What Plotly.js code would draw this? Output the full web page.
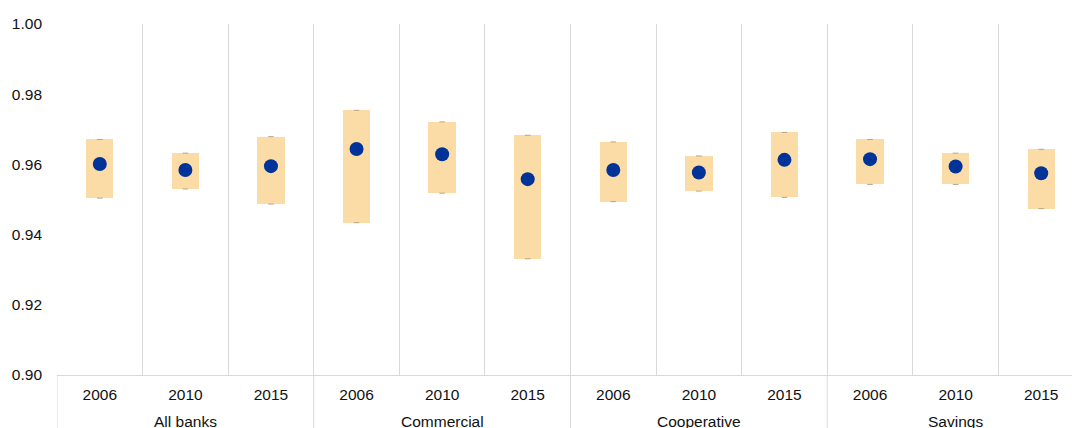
<!DOCTYPE html>
<html>
<head>
<meta charset="utf-8">
<script src="https://cdn.plot.ly/plotly-3.0.1.min.js"></script>
<style>
html,body{margin:0;padding:0;overflow:hidden;background:#fff;}
#chart{width:1084px;height:445px;}
</style>
</head>
<body>
<div id="chart"></div>
<script>
// Data
var groups = ["All banks", "Commercial", "Cooperative", "Savings"];
var years = ["2006", "2010", "2015"];
var lowValues  = [0.9504, 0.9530, 0.9487, 0.9434, 0.9518, 0.9331, 0.9494, 0.9524, 0.9506, 0.9543, 0.9543, 0.9474];
var highValues = [0.9671, 0.9632, 0.9679, 0.9754, 0.9721, 0.9683, 0.9664, 0.9624, 0.9691, 0.9671, 0.9632, 0.9643];
var midValues  = [0.9601, 0.9584, 0.9595, 0.9644, 0.9629, 0.9558, 0.9584, 0.9577, 0.9613, 0.9615, 0.9594, 0.9575];
var yTicks = [0.90, 0.92, 0.94, 0.96, 0.98, 1.00];

var n = lowValues.length;
var xs = [], yearLabels = [];
for (var i = 0; i < n; i++) { xs.push(i); yearLabels.push(years[i % years.length]); }
var boundaries = [];
for (var b = 0; b <= n; b++) boundaries.push(b - 0.5);
var per = years.length;
var groupCenters = groups.map(function(g, k){ return k * per + (per - 1) / 2; });
var groupEdges = [];
for (var k = 0; k <= groups.length; k++) groupEdges.push(k * per - 0.5);

var spans = highValues.map(function(h, i){ return h - lowValues[i]; });

var traces = [
  {
    type: 'bar', x: xs, y: spans, base: lowValues, width: 0.32,
    marker: {color: '#FCDCA6', line: {width: 0}},
    hoverinfo: 'skip', showlegend: false
  },
  {
    type: 'scatter', mode: 'markers', x: xs.concat(xs), y: highValues.concat(lowValues),
    marker: {symbol: 'line-ew-open', size: 4, color: '#b5a58a', line: {width: 1, color: '#b5a58a'}},
    hoverinfo: 'skip', showlegend: false
  },
  {
    type: 'scatter', mode: 'markers', x: xs, y: midValues,
    marker: {color: '#003399', size: 14, line: {width: 0}},
    showlegend: false
  }
];

var shapes = groupEdges.map(function(e){
  return {type: 'line', xref: 'x', yref: 'paper', x0: e, x1: e, y0: 0, y1: -0.3,
          line: {color: '#d9d9d9', width: 1}, layer: 'below'};
});

var annotations = groups.map(function(g, k){
  return {text: g, x: groupCenters[k], xref: 'x', y: 0, yref: 'paper',
          yanchor: 'middle', yshift: -46, showarrow: false,
          font: {family: 'Liberation Sans, Arial, sans-serif', size: 15.5, color: '#111'}};
});

var layout = {
  width: 1084, height: 445,
  margin: {l: 57, r: 0, t: 24, b: 70},
  paper_bgcolor: '#fff', plot_bgcolor: '#fff',
  font: {family: 'Liberation Sans, Arial, sans-serif', size: 15.5, color: '#111'},
  bargap: 0,
  xaxis: {
    range: [-0.5, n - 0.5], tickmode: 'array', tickvals: xs, ticktext: yearLabels,
    showgrid: false, zeroline: false, ticks: '', ticklabelstandoff: 5,
    showline: true, linecolor: '#d9d9d9', linewidth: 1,
    minor: {tickmode: 'array', tickvals: boundaries, showgrid: true, gridcolor: '#d9d9d9', gridwidth: 1, ticks: ''},
    fixedrange: true
  },
  yaxis: {
    range: [0.90, 1.00], tickmode: 'array', tickvals: yTicks, tickformat: '.2f',
    showgrid: false, zeroline: false, showline: false, ticks: '', ticklabelstandoff: 14,
    fixedrange: true
  },
  shapes: shapes,
  annotations: annotations
};

Plotly.newPlot('chart', traces, layout, {displayModeBar: false, staticPlot: true});
</script>
</body>
</html>
